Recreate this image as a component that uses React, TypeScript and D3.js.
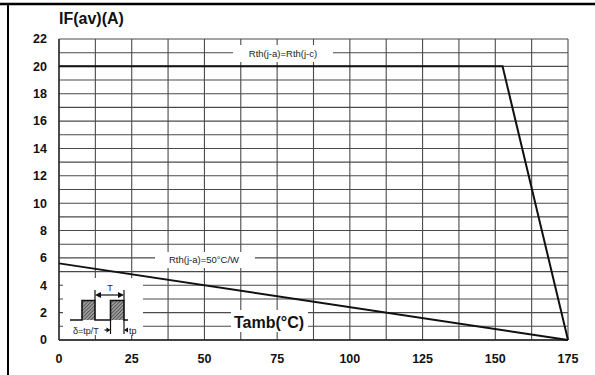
import React from "react";
import * as d3 from "d3";

// Axis ticks
const tempTicks = [0, 25, 50, 75, 100, 125, 150, 175];
const currentTicks = [0, 2, 4, 6, 8, 10, 12, 14, 16, 18, 20, 22];

// Derating curves: ambient temperature (°C) vs average forward current (A)
const infiniteHeatsinkTemp = [0, 152.5, 175];
const infiniteHeatsinkCurrent = [20, 20, 0];
const rth50Temp = [0, 175];
const rth50Current = [5.6, 0];

const W = 595;
const H = 375;
const M = { left: 59, right: 27, top: 39, bottom: 35 };

const FONT = "'Liberation Sans', Arial, Helvetica, sans-serif";

export default function App() {
  const x = d3.scaleLinear().domain([0, 175]).range([M.left, W - M.right]);
  const y = d3.scaleLinear().domain([0, 22]).range([H - M.bottom, M.top]);

  const minorX = d3.range(0, 175.01, 12.5);
  const minorY = d3.range(0, 22.01, 1);

  const line = d3
    .line<[number, number]>()
    .x((d) => x(d[0]))
    .y((d) => y(d[1]));

  const curveA = line(infiniteHeatsinkTemp.map((t, i) => [t, infiniteHeatsinkCurrent[i]]));
  const curveB = line(rth50Temp.map((t, i) => [t, rth50Current[i]]));

  // pulse-train inset geometry
  const base = 320;
  const top = 300.5;
  const p1a = 82, p1b = 95, p2a = 110.5, p2b = 124;

  return (
    <svg
      width={W}
      height={H}
      style={{ position: "absolute", left: 0, top: 0, background: "#fff" }}
      fontFamily={FONT}
    >
      <defs>
        <pattern id="hatch" width="2.5" height="2.5" patternUnits="userSpaceOnUse" patternTransform="rotate(45)">
          <rect width="2.5" height="2.5" fill="#9a9a9a" />
          <line x1="0" y1="0" x2="0" y2="2.5" stroke="#222" strokeWidth="1" />
        </pattern>
      </defs>

      {/* frame */}
      <line x1={0} y1={4} x2={W} y2={4} stroke="#000" strokeWidth={2.5} />
      <line x1={8} y1={3} x2={8} y2={H} stroke="#000" strokeWidth={2} />

      {/* grid */}
      <g stroke="#4a4a4a" strokeWidth={1.1}>
        {minorY.map((v) => (
          <line key={"h" + v} x1={x(0)} x2={x(175)} y1={y(v)} y2={y(v)} />
        ))}
        {minorX.map((v) => (
          <line key={"v" + v} x1={x(v)} x2={x(v)} y1={y(0)} y2={y(22)} />
        ))}
      </g>
      <line x1={x(0)} x2={x(175)} y1={y(0)} y2={y(0)} stroke="#222" strokeWidth={1.3} />
      <line x1={x(0)} x2={x(0)} y1={y(0)} y2={y(22)} stroke="#222" strokeWidth={1.3} />

      {/* label backgrounds */}
      <rect x={233} y={45} width={100} height={17} fill="#fff" />
      <rect x={155} y={252} width={100} height={16} fill="#fff" />
      <rect x={231} y={310} width={77} height={22} fill="#fff" />
      <rect x={63} y={278} width={80} height={57} fill="#fff" />

      {/* curves */}
      <path d={curveA ?? ""} fill="none" stroke="#111" strokeWidth={2} />
      <path d={curveB ?? ""} fill="none" stroke="#111" strokeWidth={2} />

      {/* curve labels */}
      <text x={283} y={56.5} fontSize={9.5} textAnchor="middle" fill="#222">
        Rth(j-a)=Rth(j-c)
      </text>
      <text x={204} y={263} fontSize={9.5} textAnchor="middle" fill="#222">
        Rth(j-a)=50°C/W
      </text>
      <text x={269} y={327.5} fontSize={16} fontWeight="bold" textAnchor="middle" fill="#111">
        Tamb(°C)
      </text>

      {/* pulse inset */}
      <g stroke="#111" fill="none">
        <rect x={p1a} y={top} width={p1b - p1a} height={base - top} fill="url(#hatch)" stroke="none" />
        <rect x={p2a} y={top} width={p2b - p2a} height={base - top} fill="url(#hatch)" stroke="none" />
        <path
          d={`M70,${base} H${p1a} V${top} H${p1b} V${base} H${p2a} V${top} H${p2b} V${base} H128`}
          strokeWidth={1.6}
        />
        {/* period markers */}
        <line x1={p1b} x2={p1b} y1={290} y2={top} strokeWidth={1.2} />
        <line x1={p2b} x2={p2b} y1={290} y2={top} strokeWidth={1.2} />
        <line x1={p1b + 5} x2={p2b - 5} y1={295} y2={295} strokeWidth={1.2} />
        <path d={`M${p1b},295 l6,-3 v6 z`} fill="#111" stroke="none" />
        <path d={`M${p2b},295 l-6,-3 v6 z`} fill="#111" stroke="none" />
        {/* pulse width markers */}
        <line x1={p2a} x2={p2a} y1={base} y2={334} strokeWidth={1.2} />
        <line x1={p2b} x2={p2b} y1={base} y2={334} strokeWidth={1.2} />
        <line x1={p2a - 6} x2={p2a - 3} y1={330} y2={330} strokeWidth={1.2} />
        <path d={`M${p2a},330 l-4,-2.5 v5 z`} fill="#111" stroke="none" />
        <path d={`M${p2b},330 l4,-2.5 v5 z`} fill="#111" stroke="none" />
      </g>
      <text x={110} y={291} fontSize={9} textAnchor="middle" fill="#222">
        T
      </text>
      <text x={129} y={334} fontSize={9} fill="#222">
        tp
      </text>
      <text x={73} y={334} fontSize={9} fill="#222">
        δ=tp/T
      </text>

      {/* axis title */}
      <text x={59} y={24} fontSize={16} fontWeight="bold" fill="#111">
        IF(av)(A)
      </text>

      {/* tick labels */}
      <g fontSize={12.5} fontWeight="bold" fill="#111">
        {currentTicks.map((v) => (
          <text key={"yl" + v} x={47} y={y(v)} dy="0.35em" textAnchor="end">
            {v}
          </text>
        ))}
        {tempTicks.map((v) => (
          <text key={"xl" + v} x={x(v)} y={363} textAnchor="middle">
            {v}
          </text>
        ))}
      </g>
    </svg>
  );
}
